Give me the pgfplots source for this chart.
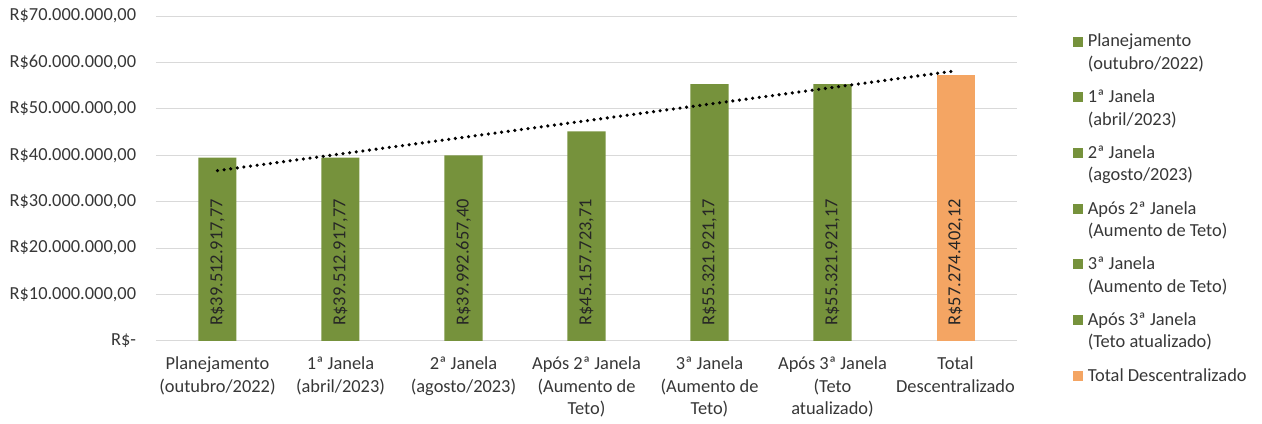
\documentclass[border=0pt]{standalone}
\usepackage{fontspec}
\setmainfont{Carlito}
\usepackage{pgfplots}
\usepackage{pgfplotstable}
\pgfplotsset{compat=1.18}
\definecolor{barg}{RGB}{118,146,60}
\definecolor{baro}{RGB}{244,165,99}
\definecolor{txt}{RGB}{55,55,55}
\definecolor{gridc}{RGB}{217,217,217}
\newcommand\cf{\fontsize{13.8}{16.8}\selectfont}

\pgfplotstableread{
x y lab
1 39512917.77 R\$39.512.917,77
2 39512917.77 R\$39.512.917,77
3 39992657.40 R\$39.992.657,40
4 45157723.71 R\$45.157.723,71
5 55321921.17 R\$55.321.921,17
6 55321921.17 R\$55.321.921,17
}\greendata
\pgfplotstableread{
x y lab
7 57274402.12 R\$57.274.402,12
}\orangedata

\begin{document}
\begin{tikzpicture}
\begin{axis}[
  scale only axis,
  width=645.75pt, height=243.75pt,
  xmin=0.5, xmax=7.5, ymin=0, ymax=70000000,
  clip=false,
  axis line style={draw=none},
  major tick length=0pt,
  ymajorgrids, grid style={gridc, line width=0.75pt},
  scaled y ticks=false,
  xtick={1,2,3,4,5,6,7},
  xticklabels={{Planejamento\\(outubro/2022)},{1ª Janela\\(abril/2023)},{2ª Janela\\(agosto/2023)},{Após 2ª Janela\\(Aumento de\\Teto)},{3ª Janela\\(Aumento de\\Teto)},{Após 3ª Janela\\(Teto\\atualizado)},{Total\\Descentralizado}},
  ytick={0,10000000,20000000,30000000,40000000,50000000,60000000,70000000},
  yticklabels={R\$-,R\$10.000.000{,}00,R\$20.000.000{,}00,R\$30.000.000{,}00,R\$40.000.000{,}00,R\$50.000.000{,}00,R\$60.000.000{,}00,R\$70.000.000{,}00},
  xticklabel style={align=center, font=\cf, text=txt, anchor=north, yshift=-8.5pt},
  yticklabel style={font=\cf, text=txt, anchor=east, xshift=-11.4pt},
  legend cell align=left,
  legend style={at={(1.065,0.945)}, anchor=north west, draw=none, fill=none,
    inner sep=0pt, row sep=13.9pt,
    nodes={inner sep=0pt, align=left, font=\cf, text=txt},
    /tikz/every odd column/.style={column sep=3.75pt}},
]
\addlegendimage{legend image code/.code={\fill[barg] (0pt,5.2pt) rectangle (6.75pt,11.95pt);}}
\addlegendentry{Planejamento\\(outubro/2022)}
\addlegendimage{legend image code/.code={\fill[barg] (0pt,5.2pt) rectangle (6.75pt,11.95pt);}}
\addlegendentry{1ª Janela\\(abril/2023)}
\addlegendimage{legend image code/.code={\fill[barg] (0pt,5.2pt) rectangle (6.75pt,11.95pt);}}
\addlegendentry{2ª Janela\\(agosto/2023)}
\addlegendimage{legend image code/.code={\fill[barg] (0pt,5.2pt) rectangle (6.75pt,11.95pt);}}
\addlegendentry{Após 2ª Janela\\(Aumento de Teto)}
\addlegendimage{legend image code/.code={\fill[barg] (0pt,5.2pt) rectangle (6.75pt,11.95pt);}}
\addlegendentry{3ª Janela\\(Aumento de Teto)}
\addlegendimage{legend image code/.code={\fill[barg] (0pt,5.2pt) rectangle (6.75pt,11.95pt);}}
\addlegendentry{Após 3ª Janela\\(Teto atualizado)}
\addlegendimage{legend image code/.code={\fill[baro] (0pt,-3.4pt) rectangle (6.75pt,3.35pt);}}
\addlegendentry{Total Descentralizado}

\addplot[ybar, bar width=28.5pt, bar shift=0pt, fill=barg, draw=none, forget plot] table[x=x,y=y] {\greendata};
\addplot[ybar, bar width=28.5pt, bar shift=0pt, fill=baro, draw=none, forget plot] table[x=x,y=y] {\orangedata};

\addplot[black, line width=2.7pt, line cap=round, dash pattern=on 0pt off 5pt, forget plot]
  coordinates {(1,36702952.7) (7,58181178.9)};

\addplot[draw=none, mark=none, forget plot, nodes near coords, point meta=explicit symbolic,
  every node near coord/.append style={rotate=90, anchor=west, inner xsep=11.5pt, inner ysep=0pt, font=\cf, text=black!85}]
  table[x=x, y expr=0, meta=lab] {\greendata};
\addplot[draw=none, mark=none, forget plot, nodes near coords, point meta=explicit symbolic,
  every node near coord/.append style={rotate=90, anchor=west, inner xsep=11.5pt, inner ysep=0pt, font=\cf, text=black!85}]
  table[x=x, y expr=0, meta=lab] {\orangedata};
\end{axis}
\pgfresetboundingbox
\path (-117pt,-62.25pt) rectangle (829.5pt,255.75pt);
\end{tikzpicture}
\end{document}
